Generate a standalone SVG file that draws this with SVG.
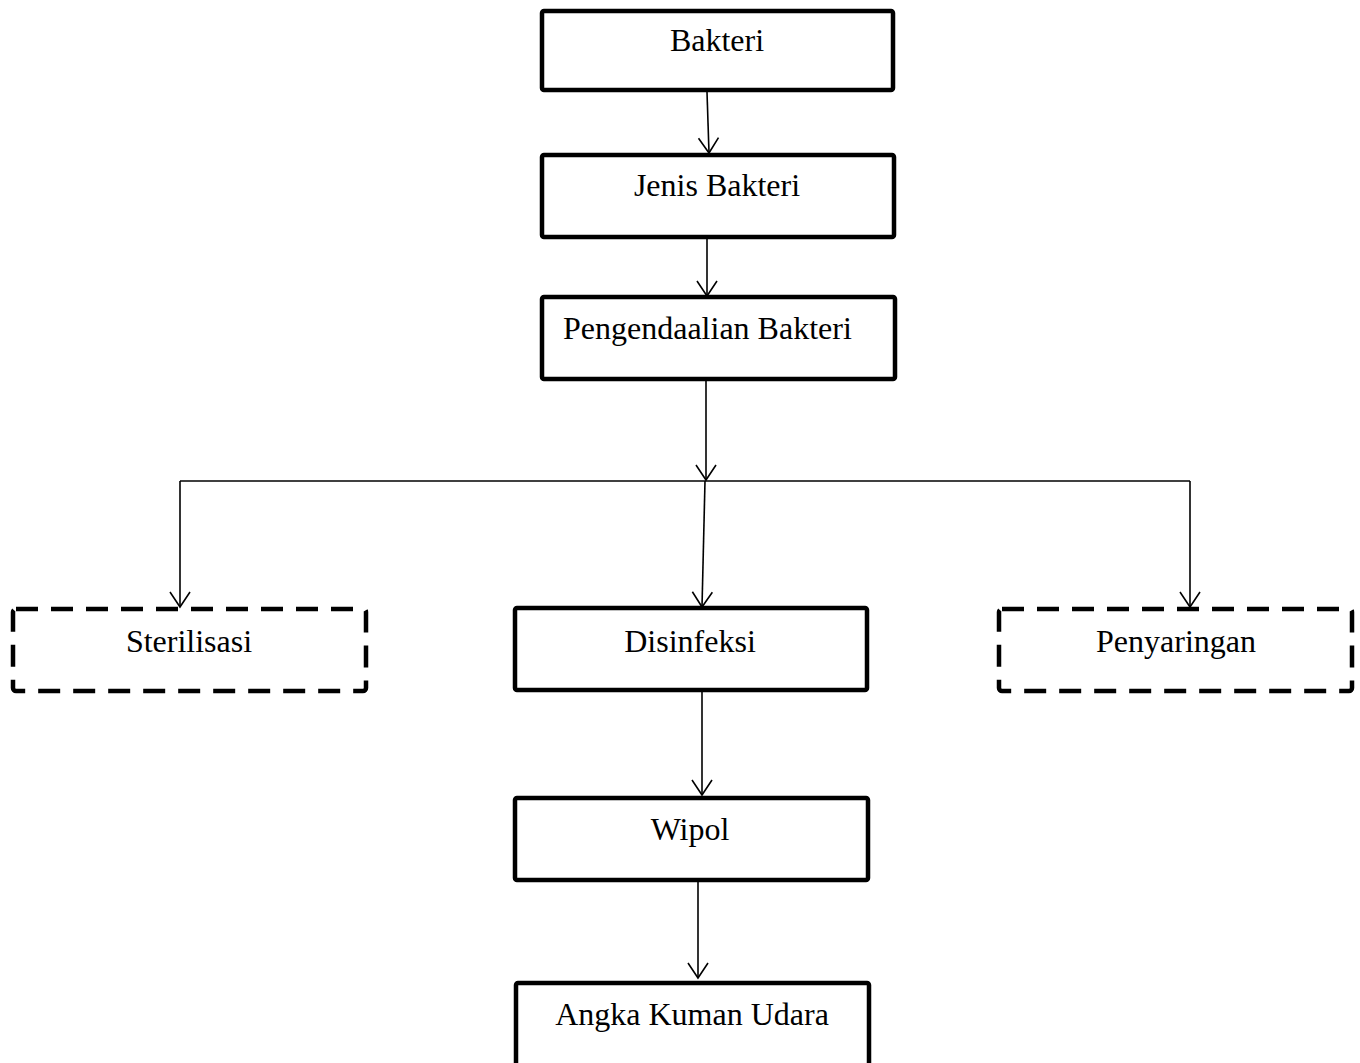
<svg xmlns="http://www.w3.org/2000/svg" width="1360" height="1063" viewBox="0 0 1360 1063">
<defs>
<style>
.box{fill:#fff;stroke:#000;stroke-width:4.5;stroke-linejoin:round}
.dash{fill:#fff;stroke:#000;stroke-width:4.5;stroke-dasharray:22 13;stroke-linejoin:round}
.lbl{font-family:"Liberation Serif","Times New Roman",serif;font-size:32px;fill:#000}
.c{text-anchor:middle}
.con{fill:none;stroke:#000;stroke-width:1.6}
.arr{marker-end:url(#ah)}
</style>
<marker id="ah" markerUnits="userSpaceOnUse" markerWidth="24" markerHeight="24" viewBox="-20 -12 24 24" refX="0" refY="0" orient="auto" overflow="visible">
<path d="M-15,-10 L0,0 L-15,10" fill="none" stroke="#000" stroke-width="1.6"/>
</marker>
</defs>
<g id="connectors">
<line class="con arr" x1="707" y1="92" x2="709" y2="153"/>
<line class="con arr" x1="707" y1="239" x2="707" y2="296"/>
<line class="con arr" x1="706" y1="381" x2="706" y2="480"/>
<line class="con" x1="180" y1="481" x2="1190" y2="481"/>
<line class="con arr" x1="705" y1="481" x2="702" y2="607"/>
<line class="con arr" x1="180" y1="481" x2="180" y2="607"/>
<line class="con arr" x1="1190" y1="481" x2="1190" y2="607"/>
<line class="con arr" x1="702" y1="692" x2="702" y2="795"/>
<line class="con arr" x1="698" y1="879" x2="698" y2="978"/>
</g>
<g id="n1"><rect class="box" x="542" y="11" width="351" height="79" rx="2"/><text class="lbl c" x="717" y="51">Bakteri</text></g>
<g id="n2"><rect class="box" x="542" y="155" width="352" height="82" rx="2"/><text class="lbl c" x="717" y="196">Jenis Bakteri</text></g>
<g id="n3"><rect class="box" x="542" y="297" width="353" height="82" rx="2"/><text class="lbl" x="563" y="339">Pengendaalian Bakteri</text></g>
<g id="n4"><rect class="dash" x="13" y="609" width="353" height="82" rx="3"/><text class="lbl c" x="189" y="652">Sterilisasi</text></g>
<g id="n5"><rect class="box" x="515" y="608" width="352" height="82" rx="2"/><text class="lbl c" x="690" y="652">Disinfeksi</text></g>
<g id="n6"><rect class="dash" x="999" y="609" width="353" height="82" rx="3"/><text class="lbl c" x="1176" y="652">Penyaringan</text></g>
<g id="n7"><rect class="box" x="515" y="798" width="353" height="82" rx="2"/><text class="lbl c" x="690" y="840">Wipol</text></g>
<g id="n8"><rect class="box" x="516" y="983" width="353" height="90" rx="2"/><text class="lbl c" x="692" y="1025">Angka Kuman Udara</text></g>
</svg>
